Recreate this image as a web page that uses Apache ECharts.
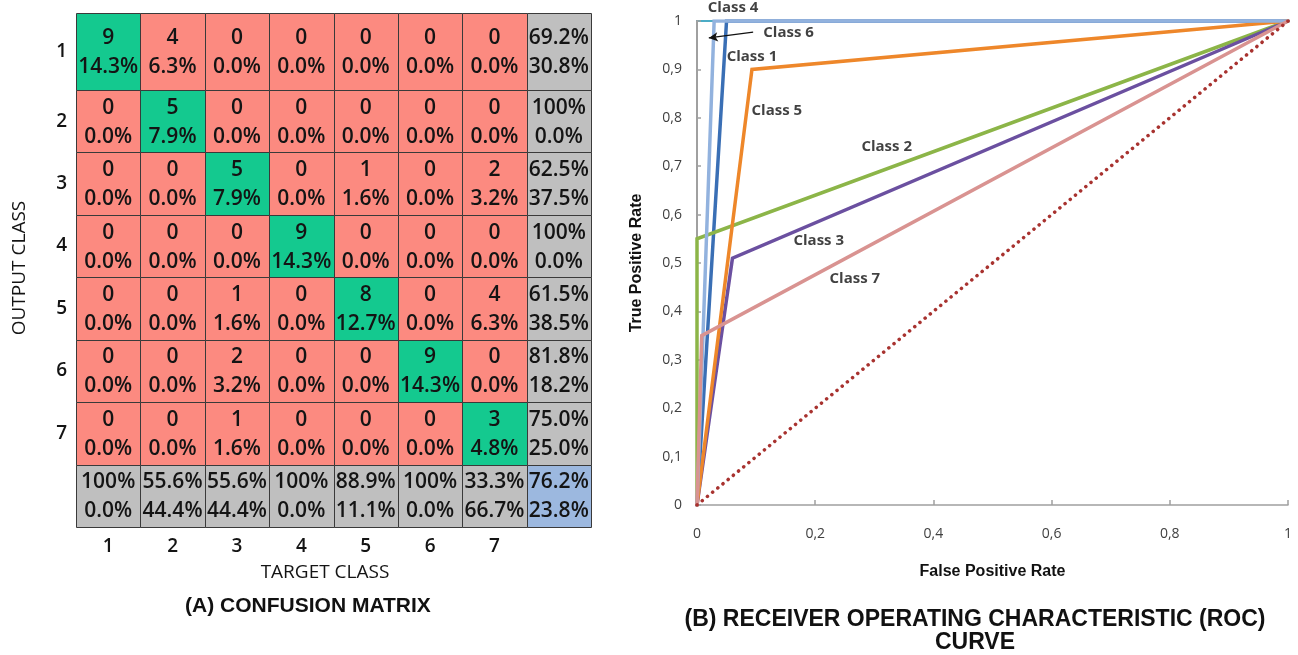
<!DOCTYPE html>
<html>
<head>
<meta charset="utf-8">
<script src="https://cdn.jsdelivr.net/npm/echarts@6/dist/echarts.min.js"></script>
<style>
  html, body { margin: 0; padding: 0; background: #ffffff; }
  #chart { width: 1298px; height: 655px; }
</style>
</head>
<body>
<div id="chart"></div>
<script>
// ---- Confusion matrix data: rows = output class, columns = target class ----
const classLabels = ['1', '2', '3', '4', '5', '6', '7'];
const confusionCounts = [
  [9, 4, 0, 0, 0, 0, 0],
  [0, 5, 0, 0, 0, 0, 0],
  [0, 0, 5, 0, 1, 0, 2],
  [0, 0, 0, 9, 0, 0, 0],
  [0, 0, 1, 0, 8, 0, 4],
  [0, 0, 2, 0, 0, 9, 0],
  [0, 0, 1, 0, 0, 0, 3]
];

// ---- ROC curves: [false positive rate, true positive rate] ----
const rocClass1 = [[0, 0], [0.05, 1], [1, 1]];
const rocClass2 = [[0, 0], [0, 0.55], [1, 1]];
const rocClass3 = [[0, 0], [0.06, 0.51], [1, 1]];
const rocClass4 = [[0, 0], [0, 1], [1, 1]];
const rocClass5 = [[0, 0], [0.093, 0.9], [1, 1]];
const rocClass6 = [[0, 0], [0.029, 1], [1, 1]];
const rocClass7 = [[0, 0], [0.008, 0.35], [1, 1]];
const rocChance = [[0, 0], [1, 1]];

// ---- colours ----
const COLOR_HIT = '#14c98f';
const COLOR_MISS = '#fc8a80';
const COLOR_SUM = '#bfbfbf';
const COLOR_ALL = '#9cb8df';
const CELL_FONT = '"Open Sans", "Liberation Sans", sans-serif';
const TITLE_FONT = '"Liberation Sans", Arial, sans-serif';

function pct(x) {
  const v = x * 100;
  return Math.abs(v - 100) < 1e-9 ? '100%' : v.toFixed(1) + '%';
}

// Build the matrix cells (7x7 counts + precision column + recall row + overall)
const n = classLabels.length;
const total = confusionCounts.flat().reduce((a, b) => a + b, 0);
const rowSums = confusionCounts.map(r => r.reduce((a, b) => a + b, 0));
const colSums = classLabels.map((_, c) => confusionCounts.reduce((a, r) => a + r[c], 0));
const correct = confusionCounts.reduce((a, r, i) => a + r[i], 0);

const matrixRows = [];
for (let r = 0; r <= n; r++) {
  const row = [];
  for (let c = 0; c <= n; c++) {
    let fill, text;
    if (r < n && c < n) {
      const v = confusionCounts[r][c];
      fill = r === c ? COLOR_HIT : COLOR_MISS;
      text = v + '\n' + pct(v / total);
    } else if (r < n) {
      const p = confusionCounts[r][r] / rowSums[r];
      fill = COLOR_SUM;
      text = pct(p) + '\n' + pct(1 - p);
    } else if (c < n) {
      const p = confusionCounts[c][c] / colSums[c];
      fill = COLOR_SUM;
      text = pct(p) + '\n' + pct(1 - p);
    } else {
      const p = correct / total;
      fill = COLOR_ALL;
      text = pct(p) + '\n' + pct(1 - p);
    }
    row.push({ col: c, fill, text });
  }
  matrixRows.push(row);
}

// First output row sits in its own (taller) band, the rest share one grid
const cellsTop = matrixRows[0].map(cell => ({ value: [cell.col, 0], cell }));
const cellsRest = [];
matrixRows.slice(1).forEach((row, i) => row.forEach(cell => cellsRest.push({ value: [cell.col, i], cell })));

function renderCell(cells) {
  return function (params, api) {
    const cell = cells[params.dataIndex].cell;
    const p = api.coord([api.value(0), api.value(1)]);
    const s = api.size([1, 1]);
    const x0 = Math.round(p[0] - s[0] / 2) + 0.5;
    const y0 = Math.round(p[1] - s[1] / 2) + 0.5;
    const x1 = Math.round(p[0] + s[0] / 2) + 0.5;
    const y1 = Math.round(p[1] + s[1] / 2) + 0.5;
    return {
      type: 'group',
      children: [
        {
          type: 'rect',
          shape: { x: x0, y: y0, width: x1 - x0, height: y1 - y0 },
          style: { fill: cell.fill, stroke: '#3a3a3a', lineWidth: 1 }
        },
        {
          type: 'text',
          style: {
            x: p[0], y: p[1] + 1,
            text: cell.text,
            align: 'center', verticalAlign: 'middle',
            fontFamily: CELL_FONT, fontSize: 21, fontWeight: 600,
            lineHeight: 29, fill: '#141414'
          }
        }
      ]
    };
  };
}

const colAxisData = classLabels.concat(['']);
const rowAxisRest = classLabels.slice(1).concat(['']);

const tickFmt = v => String(Math.round(v * 10) / 10).replace('.', ',');

function rocLine(name, data, color, width, z) {
  return {
    name, type: 'line', xAxisIndex: 2, yAxisIndex: 2, data,
    showSymbol: false, symbol: 'none', z: z === undefined ? 2 : z,
    lineStyle: { color, width, cap: 'round', join: 'miter' },
    silent: true
  };
}

// Class labels inside the ROC plot (placed in data space)
const rocAnnotations = [
  { name: 'Class 4', at: [0.061, 1.027] },
  { name: 'Class 6', at: [0.155, 0.975] },
  { name: 'Class 1', at: [0.093, 0.926] },
  { name: 'Class 5', at: [0.135, 0.814] },
  { name: 'Class 2', at: [0.321, 0.74] },
  { name: 'Class 3', at: [0.206, 0.545] },
  { name: 'Class 7', at: [0.267, 0.467] }
];

const option = {
  animation: false,
  backgroundColor: '#ffffff',
  grid: [
    { left: 76, top: 13, width: 515, height: 77 },
    { left: 76, top: 90, width: 515, height: 437 },
    { left: 697, top: 21, right: 10, bottom: 150 }
  ],
  xAxis: [
    { gridIndex: 0, type: 'category', data: colAxisData, show: false },
    {
      gridIndex: 1, type: 'category', data: colAxisData,
      axisLine: { show: false }, axisTick: { show: false }, splitLine: { show: false },
      axisLabel: { fontFamily: CELL_FONT, fontSize: 19, fontWeight: 600, color: '#141414', margin: 10 }
    },
    {
      gridIndex: 2, type: 'value', min: 0, max: 1, interval: 0.2,
      axisLine: { show: true, lineStyle: { color: '#a0a0a0', width: 1.5 } },
      axisTick: { show: true, inside: true, length: 5, lineStyle: { color: '#a0a0a0', width: 1.5 } },
      splitLine: { show: false },
      axisLabel: { formatter: tickFmt, fontFamily: CELL_FONT, fontSize: 14, color: '#404040', margin: 22 },
      name: 'False Positive Rate', nameLocation: 'middle', nameGap: 59,
      nameTextStyle: { fontFamily: TITLE_FONT, fontSize: 16, fontWeight: 'bold', color: '#111' }
    }
  ],
  yAxis: [
    {
      gridIndex: 0, type: 'category', data: ['1'],
      axisLine: { show: false }, axisTick: { show: false }, splitLine: { show: false },
      axisLabel: { fontFamily: CELL_FONT, fontSize: 19, fontWeight: 600, color: '#141414', margin: 9, padding: [0, 0, 38, 0] }
    },
    {
      gridIndex: 1, type: 'category', data: rowAxisRest, inverse: true,
      axisLine: { show: false }, axisTick: { show: false }, splitLine: { show: false },
      axisLabel: { fontFamily: CELL_FONT, fontSize: 19, fontWeight: 600, color: '#141414', margin: 9, padding: [0, 0, 26, 0] }
    },
    {
      gridIndex: 2, type: 'value', min: 0, max: 1, interval: 0.1, z: 1,
      axisLine: { show: true, lineStyle: { color: '#a0a0a0', width: 2 } },
      axisTick: { show: true, inside: true, length: 4, lineStyle: { color: '#a0a0a0', width: 1.5 } },
      splitLine: { show: false },
      axisLabel: { formatter: tickFmt, fontFamily: CELL_FONT, fontSize: 14, color: '#404040', margin: 15 },
      name: 'True Positive Rate', nameLocation: 'middle', nameGap: 52, nameRotate: 90,
      nameTextStyle: { fontFamily: TITLE_FONT, fontSize: 16, fontWeight: 'bold', color: '#111' }
    }
  ],
  graphic: [
    {
      type: 'text', x: 20, y: 268, rotation: Math.PI / 2,
      style: { text: 'OUTPUT CLASS', align: 'center', verticalAlign: 'middle',
        fontFamily: CELL_FONT, fontSize: 19, fill: '#141414' }
    },
    {
      type: 'text', x: 325, y: 573,
      style: { text: 'TARGET CLASS', align: 'center', verticalAlign: 'middle',
        fontFamily: CELL_FONT, fontSize: 19, fill: '#141414' }
    },
    {
      type: 'text', x: 308, y: 606,
      style: { text: '(A) CONFUSION MATRIX', align: 'center', verticalAlign: 'middle',
        fontFamily: TITLE_FONT, fontSize: 21, fontWeight: 'bold', fill: '#111' }
    },
    {
      type: 'text', x: 975, y: 620,
      style: { text: '(B) RECEIVER OPERATING CHARACTERISTIC (ROC)', align: 'center', verticalAlign: 'middle',
        fontFamily: TITLE_FONT, fontSize: 23, fontWeight: 'bold', fill: '#111' }
    },
    {
      type: 'text', x: 975, y: 643,
      style: { text: 'CURVE', align: 'center', verticalAlign: 'middle',
        fontFamily: TITLE_FONT, fontSize: 23, fontWeight: 'bold', fill: '#111' }
    }
  ],
  series: [
    {
      type: 'custom', xAxisIndex: 0, yAxisIndex: 0, data: cellsTop,
      renderItem: renderCell(cellsTop), silent: true
    },
    {
      type: 'custom', xAxisIndex: 1, yAxisIndex: 1, data: cellsRest,
      renderItem: renderCell(cellsRest), silent: true
    },
    rocLine('Class 4', rocClass4, '#4bacc6', 2, 0),
    rocLine('Class 1', rocClass1, '#3a6fb5', 3.5),
    rocLine('Class 2', rocClass2, '#8cb548', 3.5),
    rocLine('Class 3', rocClass3, '#6b50a0', 3.5),
    rocLine('Class 5', rocClass5, '#ee872a', 3.5),
    rocLine('Class 6', rocClass6, '#92b2de', 3.5),
    rocLine('Class 7', rocClass7, '#d99391', 3.5),
    {
      name: 'Chance', type: 'line', xAxisIndex: 2, yAxisIndex: 2, data: rocChance,
      showSymbol: false, symbol: 'none', silent: true, z: 3,
      lineStyle: { color: '#a8322f', width: 3.5, type: [0.1, 6.6], cap: 'round' }
    },
    {
      type: 'scatter', xAxisIndex: 2, yAxisIndex: 2, clip: false, silent: true, z: 4,
      symbolSize: 0,
      data: rocAnnotations.map(a => ({ name: a.name, value: a.at })),
      label: {
        show: true, position: 'inside', formatter: '{b}',
        fontFamily: CELL_FONT, fontSize: 15, fontWeight: 'bold', color: '#111'
      },
      markLine: {
        silent: true, animation: false,
        symbol: ['none', 'arrow'], symbolSize: [7, 9],
        lineStyle: { color: '#111', width: 1.3, type: 'solid' },
        label: { show: false },
        data: [[{ coord: [0.095, 0.977] }, { coord: [0.02, 0.965] }]]
      }
    }
  ]
};

const chart = echarts.init(document.getElementById('chart'), null, { renderer: 'canvas' });
chart.setOption(option);
</script>
</body>
</html>
